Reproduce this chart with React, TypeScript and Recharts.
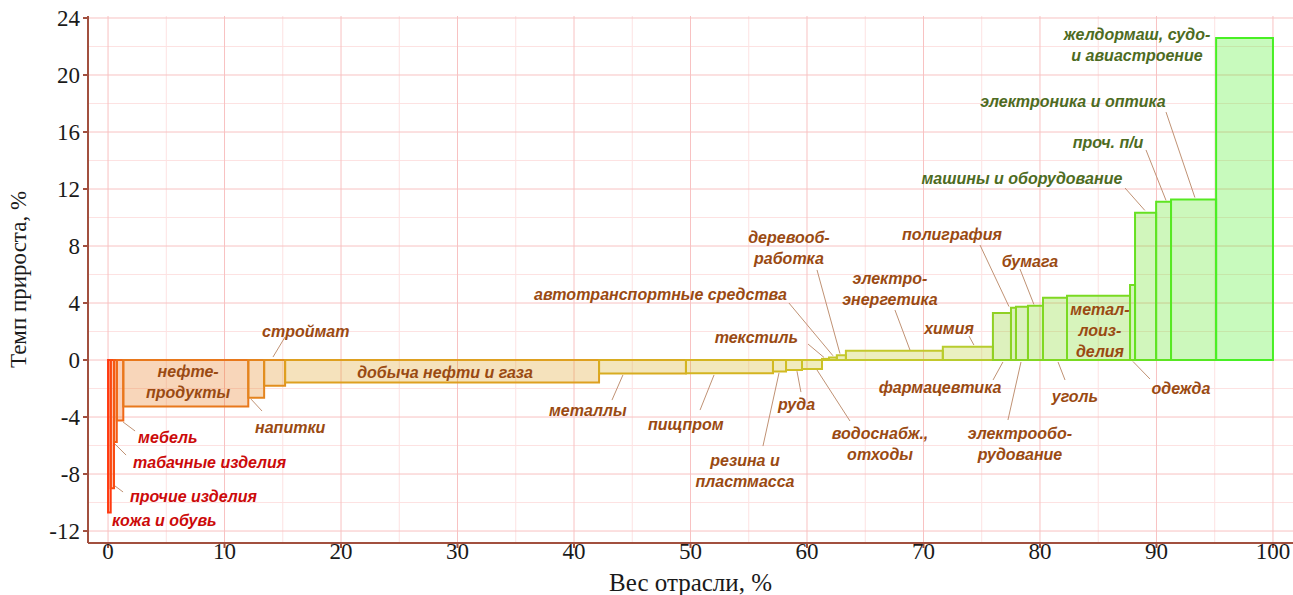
import React from 'react';
import { ComposedChart, XAxis, YAxis, CartesianGrid, ReferenceArea, ReferenceLine, Scatter } from 'recharts';

// industries sorted by growth rate; weight = share of the sector, %
const industries = [
  'кожа и обувь', 'прочие изделия', 'табачные изделия', 'мебель', 'нефтепродукты',
  'напитки', 'стройматериалы', 'добыча нефти и газа', 'металлы', 'пищпром',
  'резина и пластмасса', 'руда', 'водоснабжение, отходы', 'текстиль', 'автотранспортные средства',
  'деревообработка', 'электроэнергетика', 'химия', 'фармацевтика', 'полиграфия',
  'электрооборудование', 'бумага', 'уголь', 'металлоизделия', 'одежда',
  'машины и оборудование', 'проч. п/и', 'электроника и оптика', 'желдормаш, судо- и авиастроение',
];
const weights = [
  0.23, 0.28, 0.24, 0.56, 10.73,
  1.36, 1.8, 26.95, 7.46, 7.47,
  1.12, 1.37, 1.72, 0.6, 0.67,
  0.78, 8.32, 4.3, 1.55, 0.43,
  1.03, 1.29, 2.06, 5.41, 0.43,
  1.81, 1.28, 3.87, 4.88,
];
const growth = [
  -10.7, -9.0, -5.75, -4.25, -3.27,
  -2.65, -1.8, -1.57, -0.95, -0.93,
  -0.8, -0.7, -0.63, 0.08, 0.17,
  0.33, 0.65, 0.93, 3.3, 3.67,
  3.74, 3.81, 4.37, 4.51, 5.26,
  10.34, 11.1, 11.27, 22.6,
];

const xTicks = [0, 10, 20, 30, 40, 50, 60, 70, 80, 90, 100];
const xMinor = [5, 15, 25, 35, 45, 55, 65, 75, 85, 95];
const yTicks = [-12, -8, -4, 0, 4, 8, 12, 16, 20, 24];
const yMinor = [-10, -6, -2, 2, 6, 10, 14, 18, 22];

// outline colour of each bar, red -> green
const BAR_COLORS = [
  '#ff3a10', '#fa4a10', '#f55a14', '#f06818', '#e8781c',
  '#e4841e', '#e28e1e', '#dea020', '#d8ac20', '#d4b420',
  '#d2ba22', '#d0be24', '#ccc226', '#c8c428', '#c6c62a',
  '#c4c82c', '#c4c82c', '#b8cc2e', '#90d024', '#8cd224',
  '#88d424', '#84d622', '#80d822', '#7ada22', '#74dc22',
  '#66e022', '#5ee422', '#56e822', '#48f024',
];

const TONES: Record<string, string> = { red: '#cc0a0a', brown: '#9a4a12', green: '#4d6b22' };

// annotations: text anchor positions in data units
const labels = [
  { text: 'кожа и обувь', x: 0.34, y: -11.23, anchor: 'start', tone: 'red' },
  { text: 'прочие изделия', x: 1.89, y: -9.54, anchor: 'start', tone: 'red' },
  { text: 'табачные изделия', x: 2.15, y: -7.16, anchor: 'start', tone: 'red' },
  { text: 'мебель', x: 2.58, y: -5.4, anchor: 'start', tone: 'red' },
  { text: 'нефте-\nпродукты', x: 6.87, y: -1.5, anchor: 'middle', tone: 'brown' },
  { text: 'напитки', x: 12.62, y: -4.7, anchor: 'start', tone: 'brown' },
  { text: 'строймат', x: 13.22, y: 2.04, anchor: 'start', tone: 'brown' },
  { text: 'добыча нефти и газа', x: 28.93, y: -0.84, anchor: 'middle', tone: 'brown' },
  { text: 'металлы', x: 37.85, y: -3.51, anchor: 'start', tone: 'brown' },
  { text: 'пищпром', x: 46.35, y: -4.49, anchor: 'start', tone: 'brown' },
  { text: 'резина и\nпластмасса', x: 54.68, y: -7.75, anchor: 'middle', tone: 'brown' },
  { text: 'руда', x: 57.51, y: -3.09, anchor: 'start', tone: 'brown' },
  { text: 'водоснабж.,\nотходы', x: 66.27, y: -5.89, anchor: 'middle', tone: 'brown' },
  { text: 'текстиль', x: 59.23, y: 1.64, anchor: 'end', tone: 'brown' },
  { text: 'автотранспортные средства', x: 58.28, y: 4.63, anchor: 'end', tone: 'brown' },
  { text: 'деревооб-\nработка', x: 58.45, y: 7.93, anchor: 'middle', tone: 'brown' },
  { text: 'электро-\nэнергетика', x: 67.12, y: 5.05, anchor: 'middle', tone: 'brown' },
  { text: 'химия', x: 72.19, y: 2.25, anchor: 'middle', tone: 'brown' },
  { text: 'фармацевтика', x: 71.42, y: -1.89, anchor: 'middle', tone: 'brown' },
  { text: 'полиграфия', x: 72.45, y: 8.84, anchor: 'middle', tone: 'brown' },
  { text: 'бумага', x: 79.14, y: 6.95, anchor: 'middle', tone: 'brown' },
  { text: 'электрообо-\nрудование', x: 78.28, y: -5.89, anchor: 'middle', tone: 'brown' },
  { text: 'уголь', x: 83.0, y: -2.53, anchor: 'middle', tone: 'brown' },
  { text: 'метал-\nлоиз-\nделия', x: 85.15, y: 2.14, anchor: 'middle', tone: 'brown' },
  { text: 'одежда', x: 92.1, y: -1.96, anchor: 'middle', tone: 'brown' },
  { text: 'машины и оборудование', x: 78.45, y: 12.77, anchor: 'middle', tone: 'green' },
  { text: 'проч. п/и', x: 85.84, y: 15.3, anchor: 'middle', tone: 'green' },
  { text: 'электроника и оптика', x: 82.83, y: 18.18, anchor: 'middle', tone: 'green' },
  { text: 'желдормаш, судо-\nи авиастроение', x: 88.33, y: 22.14, anchor: 'middle', tone: 'green' },
];

// leader lines from label to bar, data units
const leaders = [
  [1.29, -9.26, 0.6, -8.84],
  [1.55, -6.67, 0.6, -5.9],
  [2.32, -4.98, 1.29, -4.35],
  [13.22, -3.58, 12.27, -2.74],
  [15.19, 1.61, 14.16, 0.21],
  [43.26, -2.81, 44.2, -1.05],
  [50.82, -3.51, 52.02, -1.05],
  [56.22, -6.04, 57.6, -0.9],
  [59.48, -2.25, 59.14, -0.78],
  [63.69, -4.28, 60.86, -0.7],
  [60.09, 1.12, 61.46, 0.18],
  [58.45, 4.0, 62.23, 0.3],
  [60.86, 6.32, 62.83, 0.45],
  [67.55, 3.51, 68.84, 0.7],
  [73.91, 1.68, 74.33, 1.05],
  [75.97, -1.4, 76.82, -0.14],
  [74.85, 8.07, 77.34, 3.75],
  [78.28, 6.39, 79.48, 3.9],
  [77.25, -4.21, 78.37, -0.14],
  [82.15, -1.4, 81.55, -0.14],
  [89.44, -1.33, 87.98, -0.1],
  [87.3, 12.07, 89.0, 10.5],
  [89.1, 14.74, 90.82, 11.2],
  [90.82, 17.4, 93.3, 11.4],
];

let acc = 0;
const bars = industries.map((name, i) => {
  const x1 = acc;
  acc += weights[i];
  return { name, x1, x2: acc, value: growth[i] };
});

const AXIS = '#a2503f';
const SERIF = "'Liberation Serif', 'Times New Roman', serif";

const AnnotationText = (props: any) => {
  const { cx, cy, payload } = props;
  if (cx == null || cy == null) return null;
  const lines: string[] = payload.text.split('\n');
  const lh = 21;
  const y0 = cy - ((lines.length - 1) * lh) / 2 + 6;
  return (
    <text
      textAnchor={payload.anchor}
      fill={TONES[payload.tone]}
      fontFamily="'Liberation Sans', Arial, sans-serif"
      fontSize={16}
      fontWeight="bold"
      fontStyle="italic"
    >
      {lines.map((l, i) => (
        <tspan key={i} x={cx} y={y0 + i * lh}>{l}</tspan>
      ))}
    </text>
  );
};

export default function App() {
  return (
    <div style={{ position: 'absolute', left: 0, top: 0, width: 1293, height: 595, background: '#fff' }}>
      <ComposedChart width={1293} height={595} margin={{ top: 16, right: 0, bottom: 0, left: 0 }}>
        <CartesianGrid verticalValues={xMinor} horizontalValues={yMinor} stroke="#fde2e2" strokeWidth={1} />
        <CartesianGrid verticalValues={xTicks} horizontalValues={yTicks} stroke="#f8c2c2" strokeWidth={1} />
        <XAxis
          type="number"
          dataKey="x"
          domain={[-1.72, 101.72]}
          ticks={xTicks}
          interval={0}
          allowDataOverflow
          height={52}
          tickSize={5}
          tickMargin={-5}
          axisLine={{ stroke: AXIS, strokeWidth: 2 }}
          tickLine={{ stroke: AXIS, strokeWidth: 2 }}
          tick={{ fill: '#1a1a1a', fontSize: 23, fontFamily: SERIF }}
          label={{ value: 'Вес отрасли, %', position: 'insideBottom', offset: 4, fill: '#1a1a1a', fontSize: 25, fontFamily: SERIF }}
        />
        <XAxis
          xAxisId="top"
          orientation="top"
          type="number"
          domain={[-1.72, 101.72]}
          allowDataOverflow
          height={0}
          tick={false}
          tickLine={false}
          axisLine={{ stroke: AXIS, strokeWidth: 2 }}
        />
        <YAxis
          type="number"
          dataKey="y"
          domain={[-12.84, 24.14]}
          ticks={yTicks}
          interval={0}
          allowDataOverflow
          width={88}
          tickSize={5}
          tickMargin={3}
          axisLine={{ stroke: AXIS, strokeWidth: 2 }}
          tickLine={{ stroke: AXIS, strokeWidth: 2 }}
          tick={{ fill: '#1a1a1a', fontSize: 23, fontFamily: SERIF }}
          label={{ value: 'Темп прироста, %', angle: -90, position: 'insideLeft', offset: 18, fill: '#1a1a1a', fontSize: 23, fontFamily: SERIF, style: { textAnchor: 'middle' } }}
        />
        {bars.map((b, i) => (
          <ReferenceArea
            key={b.name}
            x1={b.x1}
            x2={b.x2}
            y1={0}
            y2={b.value}
            fill={BAR_COLORS[i]}
            fillOpacity={0.3}
            stroke={BAR_COLORS[i]}
            strokeWidth={2}
            strokeOpacity={1}
            ifOverflow="extendDomain"
          />
        ))}
        {leaders.map((l, i) => (
          <ReferenceLine
            key={i}
            segment={[{ x: l[0], y: l[1] }, { x: l[2], y: l[3] }]}
            stroke="#c09274"
            strokeWidth={1}
          />
        ))}
        <Scatter data={labels} dataKey="y" shape={AnnotationText} isAnimationActive={false} />
      </ComposedChart>
    </div>
  );
}
